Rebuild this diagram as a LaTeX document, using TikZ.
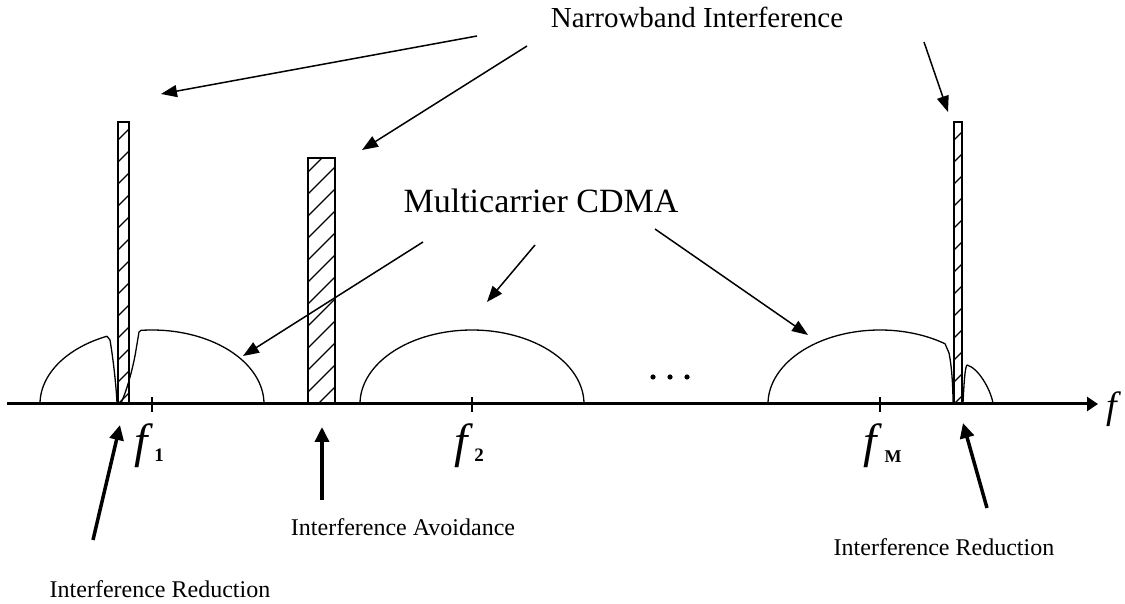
\documentclass[tikz,border=0pt]{standalone}
\usepackage{fontspec}
\setmainfont{Liberation Serif}
\usetikzlibrary{arrows.meta}
\begin{document}
\begin{tikzpicture}[x=1pt,y=1pt,
  axisline/.style={line width=3pt,-{Triangle[length=11pt,width=14pt]}},
  carrier/.style={line width=1.3pt,line join=round},
  barbox/.style={line width=2pt},
  hatchline/.style={line width=1.2pt},
  tickmark/.style={line width=1.3pt},
  pointer/.style={line width=1.5pt,-{Triangle[length=16pt,width=12pt]}},
  bigpointer/.style={line width=3.5pt,-{Triangle[length=15pt,width=14pt]}},
  headline/.style={font=\fontsize{29}{34}\selectfont,anchor=base,inner sep=0pt},
  midline/.style={font=\fontsize{34}{40}\selectfont,anchor=base,inner sep=0pt},
  noteline/.style={font=\fontsize{24}{28}\selectfont,anchor=base,inner sep=0pt},
  freq/.style={font=\fontsize{48}{52}\selectfont\itshape,anchor=base,inner sep=0pt},
  axisname/.style={font=\fontsize{38}{42}\selectfont\itshape,anchor=base,inner sep=0pt},
  subidx/.style={font=\fontsize{19}{22}\selectfont\bfseries,anchor=base,inner sep=0pt},
  subM/.style={font=\fontsize{18}{21}\selectfont\bfseries,anchor=base,inner sep=0pt},
]
\useasboundingbox (0,0) rectangle (1125,603);

% frequency axis
\coordinate (axL) at (7,199);
\coordinate (axR) at (1098,199);
\draw[axisline] (axL) -- (axR);
\node[axisname] (fax) at (1112,184) {f};

% carrier spectra
\draw[carrier] plot[domain=180:113.7,samples=40] ({152+112*cos(\x)},{199+74*sin(\x)})
  -- (110,263) .. controls (113,245) and (116,220) .. (117,200);
\draw[carrier] (121,200) .. controls (128,215) and (134,240) .. (136,253) -- (139,271)
  -- plot[domain=95.6:0,samples=50] ({152+112*cos(\x)},{199+74*sin(\x)});
\draw[carrier] plot[domain=180:0,samples=70] ({472+112*cos(\x)},{199+74*sin(\x)});
\draw[carrier] plot[domain=180:54.5,samples=60] ({880+112*cos(\x)},{199+74*sin(\x)})
  -- (949,250) .. controls (952,235) and (953,215) .. (953,200);
\draw[carrier] (963,200) .. controls (964,220) and (965,236) .. (967,238)
  .. controls (978,235) and (990,215) .. (993,200);

% carrier centre ticks
\foreach \cx in {152,472,880} \draw[tickmark] (\cx,191) -- (\cx,206);

% narrowband interferers (hatched)
\begin{scope}
  \clip (119,199) rectangle (128,480);
  \foreach \k in {0,...,13} \draw[hatchline] (118,{199+22*\k}) -- ++(11,11);
\end{scope}
\draw[barbox] (118,199) rectangle (129,481);
\begin{scope}
  \clip (309,199) rectangle (334,444);
  \foreach \k in {0,...,12} \draw[hatchline] (308,{189+22*\k}) -- ++(27,27);
\end{scope}
\draw[barbox] (308,199) rectangle (335,445);
\begin{scope}
  \clip (955,199) rectangle (961,480);
  \foreach \k in {0,...,13} \draw[hatchline] (954,{199+22*\k}) -- ++(8,8);
\end{scope}
\draw[barbox] (954,199) rectangle (962,481);

% ellipsis between carriers
\foreach \dx in {653,670,687} \fill (\dx,226) circle (2.6);

% carrier labels
\node[freq] (f1) at (141,145) {f};
\node[subidx] (f1i) at (159,141) {1};
\node[freq] (f2) at (461,145) {f};
\node[subidx] (f2i) at (479,141) {2};
\node[freq] (fM) at (870,145) {f};
\node[subM] (fMi) at (893,140) {M};

% captions
\node[headline] (nb) at (697,575) {Narrowband Interference};
\node[midline] (mc) at (541,390) {Multicarrier CDMA};
\node[noteline] (ia) at (403,68) {Interference Avoidance};
\node[noteline] (irl) at (160,6) {Interference Reduction};
\node[noteline] (irr) at (944,48) {Interference Reduction};

% pointers from the captions
\coordinate (nbA) at (477,567); \coordinate (nbAt) at (161,509);
\coordinate (nbB) at (527,557); \coordinate (nbBt) at (362,453);
\coordinate (nbC) at (924,561); \coordinate (nbCt) at (948,491);
\draw[pointer] (nbA) -- (nbAt);
\draw[pointer] (nbB) -- (nbBt);
\draw[pointer] (nbC) -- (nbCt);

\coordinate (mcA) at (423,361); \coordinate (mcAt) at (243,247);
\coordinate (mcB) at (535,358); \coordinate (mcBt) at (487,301);
\coordinate (mcC) at (655,374); \coordinate (mcCt) at (808,268);
\draw[pointer] (mcA) -- (mcAt);
\draw[pointer] (mcB) -- (mcBt);
\draw[pointer] (mcC) -- (mcCt);

\coordinate (irlA) at (93,63);  \coordinate (irlAt) at (120,178);
\coordinate (iaA) at (322,103); \coordinate (iaAt) at (322,176);
\coordinate (irrA) at (987,95); \coordinate (irrAt) at (963,180);
\draw[bigpointer] (irlA) -- (irlAt);
\draw[bigpointer] (iaA) -- (iaAt);
\draw[bigpointer] (irrA) -- (irrAt);
\end{tikzpicture}
\end{document}
